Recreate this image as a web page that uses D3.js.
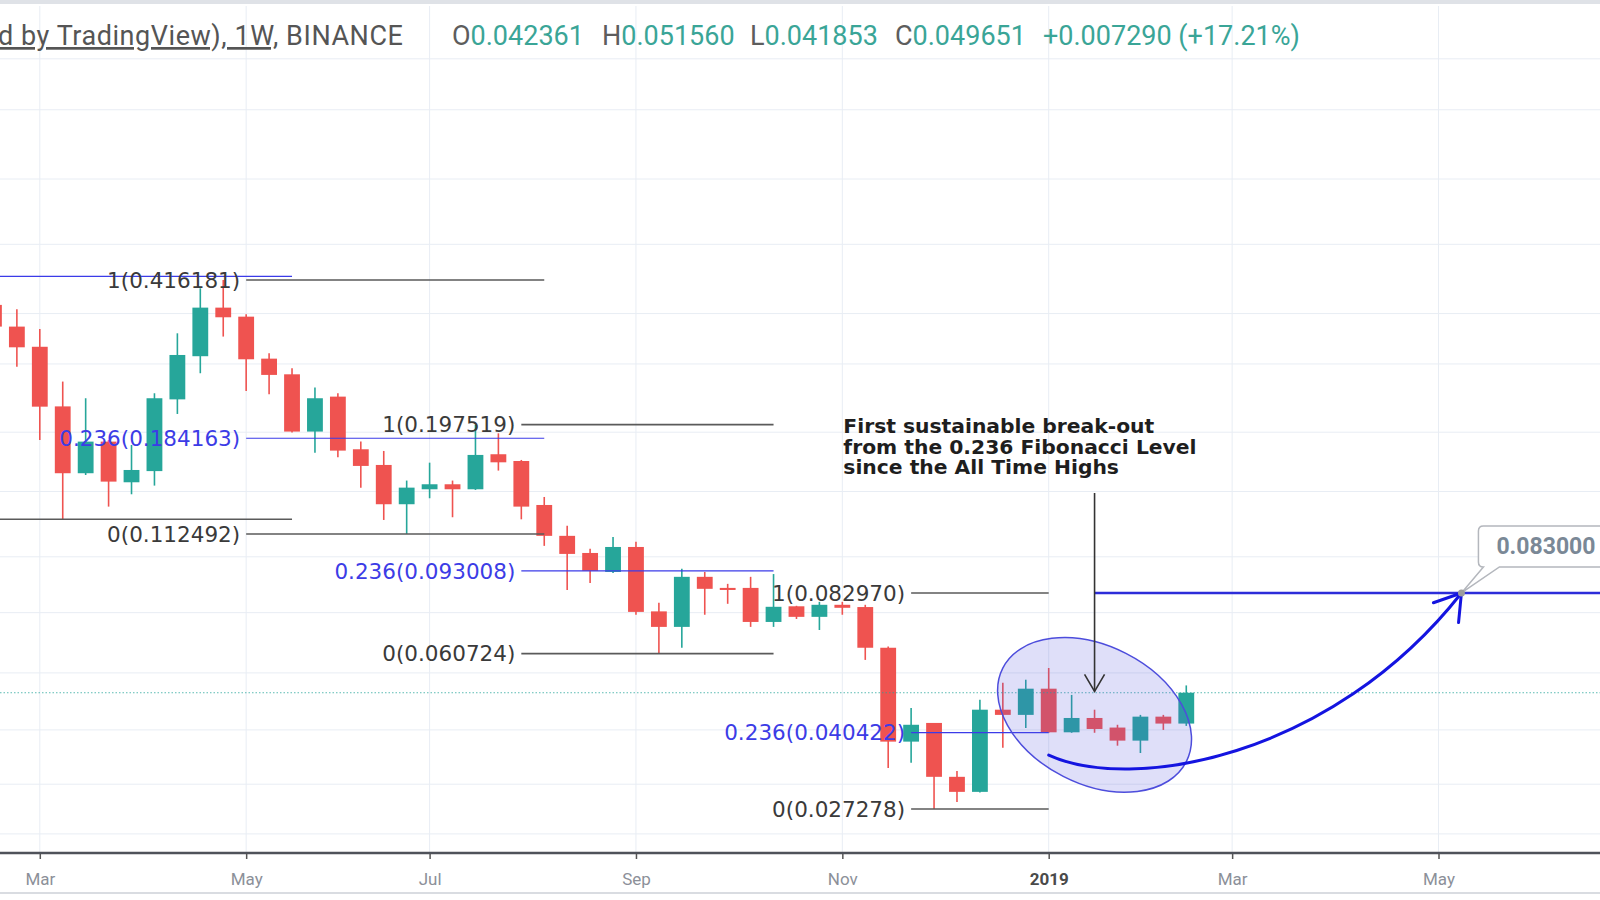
<!DOCTYPE html>
<html><head><meta charset="utf-8">
<script src="https://cdn.jsdelivr.net/npm/d3@7"></script>
<style>
html,body{margin:0;padding:0;background:#fff;overflow:hidden}
svg{display:block}
</style></head><body>
<svg id="chart" width="1600" height="900"></svg>
<script>
// ---------- data ----------
const weekStarts = ["2018-02-19","2018-02-26","2018-03-05","2018-03-12","2018-03-19","2018-03-26","2018-04-02","2018-04-09","2018-04-16","2018-04-23","2018-04-30","2018-05-07","2018-05-14","2018-05-21","2018-05-28","2018-06-04","2018-06-11","2018-06-18","2018-06-25","2018-07-02","2018-07-09","2018-07-16","2018-07-23","2018-07-30","2018-08-06","2018-08-13","2018-08-20","2018-08-27","2018-09-03","2018-09-10","2018-09-17","2018-09-24","2018-10-01","2018-10-08","2018-10-15","2018-10-22","2018-10-29","2018-11-05","2018-11-12","2018-11-19","2018-11-26","2018-12-03","2018-12-10","2018-12-17","2018-12-24","2018-12-31","2019-01-07","2019-01-14","2019-01-21","2019-01-28","2019-02-04","2019-02-11","2019-02-18"];
const openPrices  = [0.366,0.3273,0.2950,0.2170,0.1538,0.1810,0.1468,0.1555,0.2250,0.2810,0.3609,0.3445,0.2775,0.2560,0.1906,0.2282,0.1740,0.1605,0.1311,0.1416,0.1453,0.1416,0.1696,0.1638,0.1306,0.1114,0.1020,0.0925,0.1052,0.0755,0.0697,0.0902,0.0852,0.0852,0.0715,0.0775,0.0734,0.0781,0.0772,0.0626,0.0386,0.0425,0.0322,0.0298,0.0455,0.0443,0.0507,0.0405,0.0436,0.0415,0.0388,0.0439,0.042361];
const highPrices  = [0.378,0.3578,0.3233,0.2466,0.2263,0.1826,0.1779,0.2322,0.3162,0.3987,0.416181,0.3487,0.2853,0.2641,0.2391,0.2322,0.1810,0.1725,0.1481,0.1624,0.1481,0.197519,0.1889,0.1647,0.1361,0.1173,0.1042,0.1108,0.1080,0.0789,0.0940,0.0925,0.0870,0.0902,0.0915,0.0777,0.0793,0.0793,0.0781,0.0630,0.0459,0.0425,0.0332,0.0479,0.0523,0.0531,0.0564,0.0491,0.0455,0.0421,0.0443,0.0443,0.051560];
const lowPrices   = [0.322,0.2663,0.1826,0.1213,0.1524,0.1295,0.1380,0.1443,0.2087,0.2574,0.3109,0.2350,0.2310,0.1896,0.1710,0.1670,0.1428,0.1209,0.112492,0.1352,0.1226,0.1411,0.1559,0.1213,0.1058,0.0843,0.0874,0.0920,0.0742,0.060724,0.0626,0.0742,0.0785,0.0697,0.0697,0.0726,0.0686,0.0742,0.0588,0.0337,0.0346,0.027278,0.0283,0.0297,0.0374,0.0414,0.0404,0.0404,0.0404,0.0378,0.0364,0.0410,0.041853];
const closePrices = [0.3273,0.2942,0.2167,0.1538,0.1810,0.1473,0.1564,0.2263,0.2828,0.3609,0.3434,0.2766,0.2552,0.1906,0.2263,0.1728,0.1597,0.1311,0.1428,0.1453,0.1416,0.1690,0.1627,0.1295,0.1114,0.1015,0.0930,0.1052,0.0753,0.0697,0.0902,0.0848,0.0843,0.0715,0.0773,0.0734,0.0781,0.0769,0.0626,0.0386,0.0421,0.0322,0.0298,0.0455,0.0443,0.0507,0.0405,0.0436,0.0412,0.0388,0.0439,0.042361,0.049651];

const monthTickDates  = ["2018-03-05","2018-05-07","2018-07-02","2018-09-03","2018-11-05","2019-01-07","2019-03-04","2019-05-06"];
const monthTickLabels = ["Mar","May","Jul","Sep","Nov","2019","Mar","May"];
const gridPrices = [1.3,1.0,0.7,0.5,0.35,0.27,0.19,0.14,0.1,0.075,0.055,0.041,0.031,0.024];

// Fibonacci retracements
const fibRatios = [1, 0.236, 0];
const fibStarts = ["2018-05-07","2018-07-30","2018-11-26"];
const fibEnds   = ["2018-08-06","2018-10-15","2019-01-07"];
const fibPrices = [[0.416181,0.184163,0.112492],[0.197519,0.093008,0.060724],[0.082970,0.040422,0.027278]];
const oldFibEnd = "2018-05-21";
const oldFibPrices = [0.424, 0.1213];
const oldFibRatios = [0.236, 0];

// header
const symbolText = "d by TradingView), 1W,";
const exchangeText = " BINANCE";
const ohlcLabels = ["O","H","L","C"];
const ohlcValues = ["0.042361","0.051560","0.041853","0.049651"];
const changeText = "+0.007290 (+17.21%)";

// annotations
const noteLines = ["First sustainable break-out","from the 0.236 Fibonacci Level","since the All Time Highs"];
const noteDate = "2018-11-05", notePrice = 0.189;
const arrowDate = "2019-01-21", arrowFromPrice = 0.1389, arrowToPrice = 0.0500;
const ellipseDate = "2019-01-21", ellipsePrice = 0.0443;
const targetStart = "2019-01-21", targetPrice = 0.083;
const curveDates  = ["2019-01-07","2019-02-01","2019-04-03","2019-05-13"];
const curvePrices = [0.0360,0.0297,0.0352,0.083];
const calloutDate = "2019-05-13", calloutText = "0.083000";

// ---------- layout ----------
const W = 1600, H = 900, plotTop = 6, plotBottom = 853;
const parse = d3.utcParse("%Y-%m-%d");
const UP = "#26a69a", DOWN = "#ef5350";
const BLUE = "#3b3be8", DARK = "#5a5a5a";

const x = d3.scaleUtc().domain([parse("2018-03-05"), parse("2019-05-06")]).range([39.8, 1438.5]);
const y = d3.scaleLog().domain([0.02175, 1.76]).range([plotBottom, 0]);

const svg = d3.select("#chart");
svg.append("rect").attr("width",W).attr("height",H).attr("fill","#fff");

const defs = svg.append("defs");
defs.append("clipPath").attr("id","plot").append("rect")
  .attr("x",0).attr("y",plotTop).attr("width",W).attr("height",plotBottom-plotTop);
defs.append("marker").attr("id","arrBlack").attr("markerUnits","userSpaceOnUse")
  .attr("viewBox","-20 -12 22 24").attr("refX",0).attr("refY",0)
  .attr("markerWidth",22).attr("markerHeight",24).attr("orient","auto")
  .append("path").attr("d","M-17,-10L0,0L-17,10").attr("fill","none")
  .attr("stroke","#333").attr("stroke-width",1.6);
defs.append("marker").attr("id","arrBlue").attr("markerUnits","userSpaceOnUse")
  .attr("viewBox","-30 -20 33 40").attr("refX",0).attr("refY",0)
  .attr("markerWidth",33).attr("markerHeight",40).attr("orient","auto")
  .append("path").attr("d","M-25,-16L0,0L-25,16").attr("fill","none")
  .attr("stroke","#1414e0").attr("stroke-width",3).attr("stroke-linecap","round");

// top strip
svg.append("rect").attr("x",0).attr("y",0).attr("width",W).attr("height",4).attr("fill","#dfe2e7");

const plot = svg.append("g").attr("clip-path","url(#plot)");

// grid
plot.append("g").selectAll("line").data(monthTickDates).join("line")
  .attr("x1",d=>x(parse(d))).attr("x2",d=>x(parse(d)))
  .attr("y1",plotTop).attr("y2",plotBottom)
  .attr("stroke","#e8edf4").attr("stroke-width",1);
plot.append("g").selectAll("line").data(gridPrices).join("line")
  .attr("x1",0).attr("x2",W).attr("y1",d=>y(d)).attr("y2",d=>y(d))
  .attr("stroke","#e8edf4").attr("stroke-width",1);

// candles
const candles = weekStarts.map((d,i)=>({date:parse(d),o:openPrices[i],h:highPrices[i],l:lowPrices[i],c:closePrices[i]}));
const step = x(d3.utcDay.offset(parse("2018-03-05"),7)) - x(parse("2018-03-05"));
const bodyW = step*0.69;
const cg = plot.append("g").selectAll("g").data(candles).join("g");
cg.append("line")
  .attr("x1",d=>x(d.date)).attr("x2",d=>x(d.date))
  .attr("y1",d=>y(d.h)).attr("y2",d=>y(d.l))
  .attr("stroke",d=>d.c>=d.o?UP:DOWN).attr("stroke-width",1.6);
cg.append("rect")
  .attr("x",d=>x(d.date)-bodyW/2).attr("width",bodyW)
  .attr("y",d=>y(Math.max(d.o,d.c)))
  .attr("height",d=>Math.max(2,Math.abs(y(d.o)-y(d.c))))
  .attr("fill",d=>d.c>=d.o?UP:DOWN);

// last price dotted line
plot.append("line").attr("x1",0).attr("x2",W)
  .attr("y1",y(closePrices[closePrices.length-1])).attr("y2",y(closePrices[closePrices.length-1]))
  .attr("stroke",UP).attr("stroke-opacity",0.75).attr("stroke-width",1).attr("stroke-dasharray","1.5,2");

// old fib (labels off-screen)
const ann = plot.append("g");
oldFibPrices.forEach((p,i)=>{
  ann.append("line").attr("x1",x(parse("2018-02-05"))).attr("x2",x(parse(oldFibEnd)))
    .attr("y1",y(p)).attr("y2",y(p))
    .attr("stroke",oldFibRatios[i]===0.236?BLUE:DARK).attr("stroke-width",oldFibRatios[i]===0.236?1.2:1.6);
});
// fib retracements
fibPrices.forEach((levels,k)=>{
  const x0 = x(parse(fibStarts[k])), x1 = x(parse(fibEnds[k]));
  levels.forEach((p,j)=>{
    const r = fibRatios[j], isBlue = r===0.236;
    ann.append("line").attr("x1",x0).attr("x2",x1).attr("y1",y(p)).attr("y2",y(p))
      .attr("stroke",isBlue?BLUE:DARK).attr("stroke-width",isBlue?1.2:1.6);
    ann.append("text").attr("x",x0-6).attr("y",y(p)).attr("dy","0.36em")
      .attr("text-anchor","end").attr("font-family","DejaVu Sans").attr("font-size",21.5)
      .attr("fill",isBlue?"#3c3ce6":"#3a3a3a")
      .text(`${r}(${p.toFixed(6)})`);
  });
});

// ellipse highlight
ann.append("ellipse")
  .attr("transform",`translate(${x(parse(ellipseDate))},${y(ellipsePrice)}) rotate(27)`)
  .attr("rx",103).attr("ry",69)
  .attr("fill","rgba(85,85,225,0.19)").attr("stroke","#4d4ddc").attr("stroke-width",1.5);

// target line
ann.append("line").attr("x1",x(parse(targetStart))).attr("x2",W+10)
  .attr("y1",y(targetPrice)).attr("y2",y(targetPrice))
  .attr("stroke","#2d2dd9").attr("stroke-width",2.5);

// vertical arrow
ann.append("line").attr("x1",x(parse(arrowDate))).attr("x2",x(parse(arrowDate)))
  .attr("y1",y(arrowFromPrice)).attr("y2",y(arrowToPrice))
  .attr("stroke","#333").attr("stroke-width",1.6).attr("marker-end","url(#arrBlack)");

// curved arrow
const cp = curveDates.map((d,i)=>[x(parse(d)), y(curvePrices[i])]);
ann.append("path")
  .attr("d",`M${cp[0][0]},${cp[0][1]}C${cp[1][0]},${cp[1][1]} ${cp[2][0]},${cp[2][1]} ${cp[3][0]},${cp[3][1]}`)
  .attr("fill","none").attr("stroke","#1414e0").attr("stroke-width",3).attr("stroke-linecap","round")
  .attr("marker-end","url(#arrBlue)");

// note text
const nt = ann.append("text").attr("font-family","DejaVu Sans").attr("font-weight","bold")
  .attr("font-size",20.3).attr("fill","#1e1e1e");
noteLines.forEach((s,i)=>{
  nt.append("tspan").attr("x",x(parse(noteDate))+1).attr("y",y(notePrice)+i*20.4).text(s);
});

// callout
const P = [x(parse(calloutDate)), y(targetPrice)];
const L = P[0]+17, T = P[1]-67, B = P[1]-26, R = W+40, rr = 5;
ann.append("path")
  .attr("d",`M${L+rr},${T}H${R}V${B}H${P[0]+38}L${P[0]},${P[1]}L${P[0]+22},${B}H${L+rr}Q${L},${B} ${L},${B-rr}V${T+rr}Q${L},${T} ${L+rr},${T}Z`)
  .attr("fill","#fff").attr("stroke","#b4b7bd").attr("stroke-width",1.5);
ann.append("text").attr("x",P[0]+35).attr("y",P[1]-39)
  .attr("font-family","Roboto").attr("font-weight","bold").attr("font-size",23)
  .attr("fill","#7a8896").text(calloutText);
ann.append("circle").attr("cx",P[0]).attr("cy",P[1]).attr("r",3.5).attr("fill","#9c9c9c");

// x axis
const axis = d3.axisBottom(x).tickValues(monthTickDates.map(parse))
  .tickFormat((d,i)=>monthTickLabels[i]).tickSize(6).tickPadding(14).tickSizeOuter(0);
const ag = svg.append("g").attr("transform",`translate(0,${plotBottom})`).call(axis);
ag.select(".domain").remove();
ag.selectAll(".tick line").attr("stroke","#555").attr("stroke-width",1.5);
ag.selectAll(".tick text").attr("font-family","Roboto").attr("font-size",17)
  .attr("fill",(d,i)=>monthTickLabels[i]==="2019"?"#4a4a4a":"#8c9099")
  .attr("font-weight",(d,i)=>monthTickLabels[i]==="2019"?"bold":"normal");
svg.append("line").attr("x1",0).attr("x2",W).attr("y1",plotBottom).attr("y2",plotBottom)
  .attr("stroke","#4f525a").attr("stroke-width",2.5);
svg.append("line").attr("x1",0).attr("x2",W).attr("y1",893).attr("y2",893)
  .attr("stroke","#d9dce1").attr("stroke-width",2);

// header
const hg = svg.append("g").attr("font-family","Roboto").attr("font-size",27);
const hx = [452, 602, 750, 895];
const ht = hg.append("text").attr("x",-2).attr("y",45).attr("fill","#555").attr("letter-spacing",0.55);
ht.append("tspan").attr("text-decoration","underline").text(symbolText);
ht.append("tspan").text(exchangeText);
ohlcLabels.forEach((lab,i)=>{
  const t = hg.append("text").attr("x",hx[i]).attr("y",45);
  t.append("tspan").attr("fill","#5d5d5d").text(lab);
  t.append("tspan").attr("fill","#3aa597").text(ohlcValues[i]);
});
hg.append("text").attr("x",1043).attr("y",45).attr("fill","#3aa597").text(changeText);
</script>
</body></html>
